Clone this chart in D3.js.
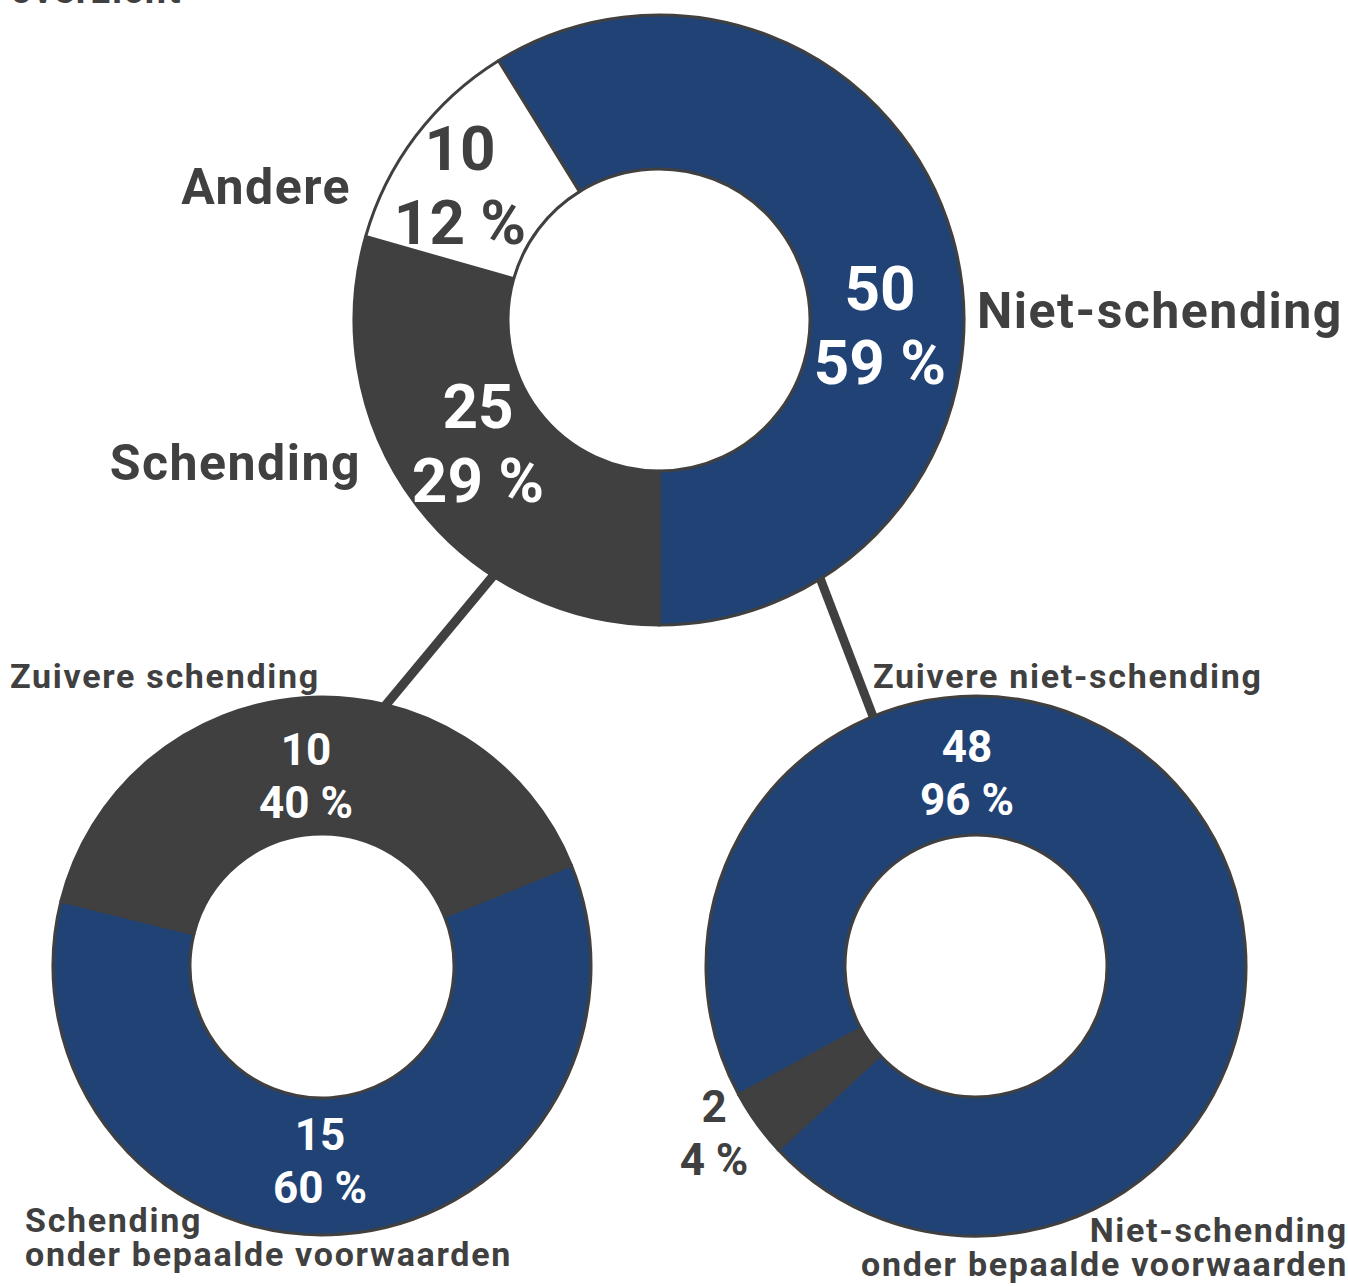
<!DOCTYPE html>
<html>
<head>
<meta charset="utf-8">
<script src="https://cdn.jsdelivr.net/npm/d3@7"></script>
<style>
  body { margin: 0; background: #fff; }
  svg { display: block; }
  text { font-family: Roboto, "DejaVu Sans", sans-serif; font-weight: 700; }
</style>
</head>
<body>
<svg id="chart" width="1348" height="1287"></svg>
<script>
// data
const mainCats = ["Niet-schending", "Schending", "Andere"]
const mainValues = [50, 25, 10]
const mainPct = ["59 %", "29 %", "12 %"]

const leftCats = ["Zuivere schending", "Schending\nonder bepaalde voorwaarden"]
const leftValues = [10, 15]
const leftPct = ["40 %", "60 %"]

const rightCats = ["Zuivere niet-schending", "Niet-schending\nonder bepaalde voorwaarden"]
const rightValues = [48, 2]
const rightPct = ["96 %", "4 %"]

const BLUE = "#214275"
const DARK = "#404040"

const svg = d3.select("#chart")

// cut-off title at the very top
svg.append("text")
  .attr("x", 182).attr("y", 3)
  .attr("text-anchor", "end")
  .attr("font-size", 38)
  .attr("letter-spacing", 1.5)
  .attr("fill", DARK)
  .text("Een overzicht")

// connector lines (drawn first so the donuts sit on top)
const connectors = [
  [[493, 576], [385, 706]],
  [[820, 578], [874, 719]]
]
connectors.forEach(c => {
  svg.append("line")
    .attr("x1", c[0][0]).attr("y1", c[0][1])
    .attr("x2", c[1][0]).attr("y2", c[1][1])
    .attr("stroke", DARK).attr("stroke-width", 9)
})

const deg = Math.PI / 180

// one donut: values, fills, rotation, and label layout
function donut(cfg) {
  const pie = d3.pie().sort(null)
    .startAngle(cfg.start * deg)
    .endAngle(cfg.start * deg + 2 * Math.PI)
  const arc = d3.arc().innerRadius(cfg.r0).outerRadius(cfg.r1)
  const g = svg.append("g").attr("transform", `translate(${cfg.cx},${cfg.cy})`)

  g.selectAll("path")
    .data(pie(cfg.values))
    .join("path")
    .attr("d", arc)
    .attr("fill", (d, i) => cfg.fills[i])
    .attr("stroke", DARK)
    .attr("stroke-width", 3)
    .attr("stroke-linejoin", "round")

  // value + percentage labels
  cfg.values.forEach((v, i) => {
    const lp = cfg.valuePos[i]
    const t = g.append("text")
      .attr("text-anchor", "middle")
      .attr("font-size", cfg.valueSize)
      .attr("fill", cfg.valueColors[i])
    t.append("tspan").attr("x", lp[0]).attr("y", lp[1]).text(v)
    t.append("tspan").attr("x", lp[0]).attr("y", lp[1] + cfg.lineGap).text(cfg.pct[i])
  })

  // category labels
  cfg.cats.forEach((c, i) => {
    const cp = cfg.catPos[i]
    const t = g.append("text")
      .attr("text-anchor", cp[2])
      .attr("font-size", cfg.catSize)
      .attr("letter-spacing", cfg.catSpacing)
      .attr("fill", DARK)
    c.split("\n").forEach((line, k) => {
      t.append("tspan").attr("x", cp[0]).attr("y", cp[1] + k * cfg.catGap).text(line)
    })
  })
}

// top donut: blue slice ends exactly at 6 o'clock
donut({
  cx: 659, cy: 320, r0: 151, r1: 305,
  values: mainValues, pct: mainPct, cats: mainCats,
  start: 180 - 360 * mainValues[0] / d3.sum(mainValues),
  fills: [BLUE, DARK, "#ffffff"],
  valueColors: ["#ffffff", "#ffffff", DARK],
  valueSize: 62, lineGap: 74,
  valuePos: [[221, -10], [-181, 108], [-199, -150]],
  catSize: 50, catGap: 0, catSpacing: 1.5,
  catPos: [[318, 8, "start"], [-298, 160, "end"], [-308, -116, "end"]]
})

donut({
  cx: 322, cy: 966, r0: 132, r1: 269,
  values: leftValues, pct: leftPct, cats: leftCats,
  start: -76,
  fills: [DARK, BLUE],
  valueColors: ["#ffffff", "#ffffff"],
  valueSize: 44, lineGap: 53,
  valuePos: [[-16, -201], [-2, 184]],
  catSize: 34, catGap: 34, catSpacing: 1.7,
  catPos: [[-312, -278, "start"], [-297, 266, "start"]]
})

donut({
  cx: 976, cy: 966, r0: 131, r1: 270,
  values: rightValues, pct: rightPct, cats: rightCats,
  start: 241.5,
  fills: [BLUE, DARK],
  valueColors: ["#ffffff", DARK],
  valueSize: 44, lineGap: 53,
  valuePos: [[-9, -204], [-262, 156]],
  catSize: 34, catGap: 34, catSpacing: 1.7,
  catPos: [[-103, -278, "start"], [372, 276, "end"]]
})
</script>
</body>
</html>
